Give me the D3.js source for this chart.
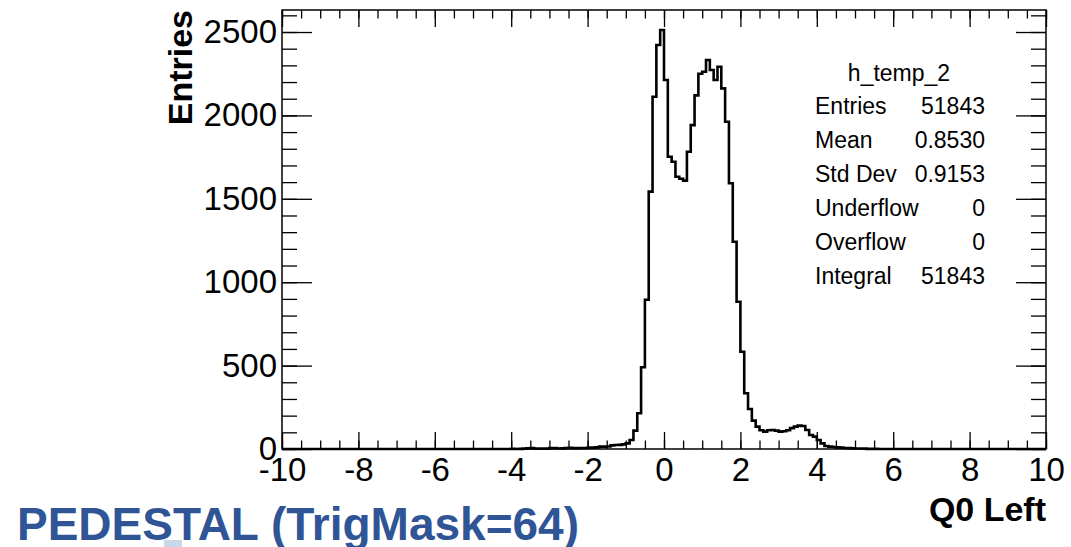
<!DOCTYPE html>
<html>
<head>
<meta charset="utf-8">
<script src="https://cdn.jsdelivr.net/npm/d3@7"></script>
<style>
  body { margin: 0; background: #fff; }
  svg { display: block; font-family: "Liberation Sans", Arial, sans-serif; }
</style>
</head>
<body>
<div id="chart"></div>
<script>
// histogram h_temp_2, 0.1 wide bins, only the non-empty part (-4.0 .. 5.6)
const binLow = -4.0
const binWidth = 0.1
const counts = [
  1, 0, 1, 2, 4, 5, 2, 2, 3, 2,                 // -4.0 .. -3.1
  5, 6, 3, 4, 6, 7, 5, 5, 6, 6,                 // -3.0 .. -2.1
  8, 8, 10, 14, 14, 15, 22, 24, 25, 28,         // -2.0 .. -1.1
  34, 54, 110, 214, 490, 895, 1543, 2112, 2422, 2512, // -1.0 .. -0.1
  2212, 1752, 1722, 1632, 1620, 1609, 1782, 1942, 2120, 2250, // 0.0 .. 0.9
  2262, 2332, 2272, 2212, 2292, 2162, 1962, 1593, 1243, 883,  // 1.0 .. 1.9
  583, 334, 240, 170, 134, 112, 104, 112, 114, 110, // 2.0 .. 2.9
  104, 106, 112, 125, 134, 140, 138, 114, 84, 74,   // 3.0 .. 3.9
  54, 34, 18, 14, 12, 10, 8, 6, 5, 4,               // 4.0 .. 4.9
  3, 3, 2, 1, 1, 1                                  // 5.0 .. 5.5
]

const xTicks = [-10, -8, -6, -4, -2, 0, 2, 4, 6, 8, 10]
const yTicks = [0, 500, 1000, 1500, 2000, 2500]

const statsTitle = "h_temp_2"
const statsNames = ["Entries", "Mean", "Std Dev", "Underflow", "Overflow", "Integral"]
const statsValues = ["51843", "0.8530", "0.9153", "0", "0", "51843"]

const width = 1071, height = 547
const frame = {left: 282, right: 1046, top: 10, bottom: 449}

const svg = d3.select("#chart").append("svg")
    .attr("width", width)
    .attr("height", height)

const x = d3.scaleLinear().domain([-10, 10]).range([frame.left, frame.right])
const y = d3.scaleLinear().domain([0, 2632]).range([frame.bottom, frame.top])

// minor tick values from the axis ranges
const xMinor = d3.range(-10, 10.001, 0.5)
const yMinor = d3.range(0, 2632, 100)

function axisStyle(g) {
    g.select(".domain").remove()
    g.selectAll("line").attr("stroke", "#000").attr("stroke-width", 1.3)
    g.selectAll("text").attr("fill", "#000").style("font-size", "33px")
        .style("font-family", "'Liberation Sans', Arial, sans-serif")
}

// bottom axis, ticks point inward
svg.append("g")
    .attr("transform", "translate(0," + frame.bottom + ")")
    .call(d3.axisBottom(x).tickValues(xMinor).tickSizeInner(-8.5).tickSizeOuter(0).tickFormat(""))
    .call(axisStyle)
svg.append("g")
    .attr("transform", "translate(0," + frame.bottom + ")")
    .call(d3.axisBottom(x).tickValues(xTicks).tickSizeInner(-17).tickSizeOuter(0).tickPadding(9).tickFormat(d3.format("d")))
    .call(axisStyle)
    .selectAll("text").text(d => String(d))

// top axis ticks
svg.append("g")
    .attr("transform", "translate(0," + frame.top + ")")
    .call(d3.axisTop(x).tickValues(xMinor).tickSizeInner(-8.5).tickSizeOuter(0).tickFormat(""))
    .call(axisStyle)
svg.append("g")
    .attr("transform", "translate(0," + frame.top + ")")
    .call(d3.axisTop(x).tickValues(xTicks).tickSizeInner(-17).tickSizeOuter(0).tickFormat(""))
    .call(axisStyle)

// left axis
svg.append("g")
    .attr("transform", "translate(" + frame.left + ",0)")
    .call(d3.axisLeft(y).tickValues(yMinor).tickSizeInner(-15).tickSizeOuter(0).tickFormat(""))
    .call(axisStyle)
svg.append("g")
    .attr("transform", "translate(" + frame.left + ",0)")
    .call(d3.axisLeft(y).tickValues(yTicks).tickSizeInner(-30).tickSizeOuter(0).tickPadding(5).tickFormat(d3.format("d")))
    .call(axisStyle)

// right axis ticks
svg.append("g")
    .attr("transform", "translate(" + frame.right + ",0)")
    .call(d3.axisRight(y).tickValues(yMinor).tickSizeInner(-15).tickSizeOuter(0).tickFormat(""))
    .call(axisStyle)
svg.append("g")
    .attr("transform", "translate(" + frame.right + ",0)")
    .call(d3.axisRight(y).tickValues(yTicks).tickSizeInner(-30).tickSizeOuter(0).tickFormat(""))
    .call(axisStyle)

// histogram outline as a step path
const bins = counts.map((c, i) => ({x0: binLow + i * binWidth, x1: binLow + (i + 1) * binWidth, n: c}))
let pts = [[x(-10), y(0)], [x(binLow), y(0)]]
bins.forEach(b => {
    pts.push([x(b.x0), y(b.n)])
    pts.push([x(b.x1), y(b.n)])
})
pts.push([x(bins[bins.length - 1].x1), y(0)])
pts.push([x(10), y(0)])

svg.append("path")
    .attr("d", d3.line()(pts))
    .attr("fill", "none")
    .attr("stroke", "#000")
    .attr("stroke-width", 2.6)
    .attr("stroke-linejoin", "miter")

// frame
svg.append("rect")
    .attr("x", frame.left)
    .attr("y", frame.top)
    .attr("width", frame.right - frame.left)
    .attr("height", frame.bottom - frame.top)
    .attr("fill", "none")
    .attr("stroke", "#000")
    .attr("stroke-width", 1.5)

// axis titles
svg.append("text")
    .attr("transform", "translate(192," + 10 + ") rotate(-90)")
    .attr("text-anchor", "end")
    .style("font-size", "34px")
    .style("font-weight", "bold")
    .text("Entries")

svg.append("text")
    .attr("x", frame.right)
    .attr("y", 521)
    .attr("text-anchor", "end")
    .style("font-size", "34px")
    .style("font-weight", "bold")
    .text("Q0 Left")

// stats box
const stats = svg.append("g")
stats.append("text")
    .attr("x", 899)
    .attr("y", 81)
    .attr("text-anchor", "middle")
    .style("font-size", "23px")
    .text(statsTitle)

statsNames.forEach((name, i) => {
    stats.append("text")
        .attr("x", 815)
        .attr("y", 114 + i * 34)
        .style("font-size", "23px")
        .text(name)
    stats.append("text")
        .attr("x", 985)
        .attr("y", 114 + i * 34)
        .attr("text-anchor", "end")
        .style("font-size", "23px")
        .text(statsValues[i])
})

// slide caption under the plot
svg.append("rect")
    .attr("x", 164)
    .attr("y", 540)
    .attr("width", 18)
    .attr("height", 7)
    .attr("fill", "#c9d8e8")

svg.append("text")
    .attr("x", 17)
    .attr("y", 540)
    .style("font-size", "46px")
    .style("font-weight", "bold")
    .attr("fill", "#2f5597")
    .text("PEDESTAL (TrigMask=64)")
</script>
</body>
</html>
